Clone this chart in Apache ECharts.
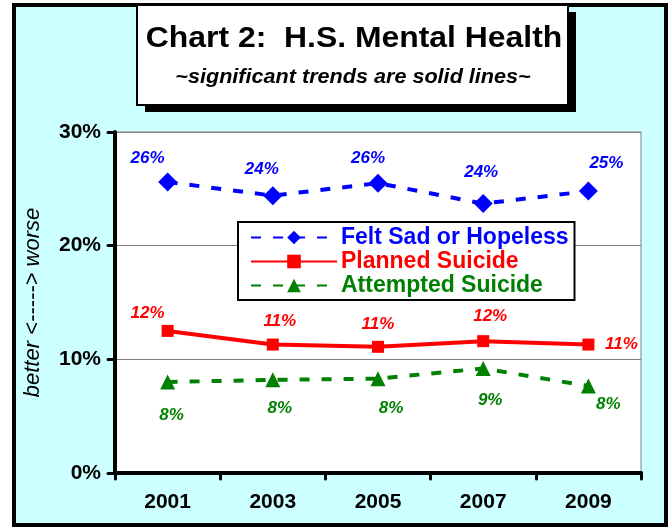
<!DOCTYPE html>
<html>
<head>
<meta charset="utf-8">
<script src="https://cdn.jsdelivr.net/npm/echarts@6/dist/echarts.min.js"></script>
<style>
  html, body { margin: 0; padding: 0; background: #fff; }
  #chart { width: 670px; height: 527px; }
</style>
</head>
<body>
<div id="chart"></div>
<script>
// data
var years = ['2001', '2003', '2005', '2007', '2009'];
var sadValues = [25.6, 24.4, 25.5, 23.7, 24.8];
var plannedValues = [12.5, 11.3, 11.1, 11.6, 11.3];
var attemptedValues = [8.0, 8.2, 8.3, 9.2, 7.65];
var sadLabels = ['26%', '24%', '26%', '24%', '25%'];
var plannedLabels = ['12%', '11%', '11%', '12%', '11%'];
var attemptedLabels = ['8%', '8%', '8%', '9%', '8%'];
var yTicks = [0, 10, 20, 30];

// where each value label sits relative to its point
var sadOffsets = [[-20, -24], [-11, -26], [-10, -25], [-2, -31], [18, -28]];
var plannedOffsets = [[-20, -18], [7, -23], [0, -23], [7, -25], [33, 0]];
var attemptedOffsets = [[4, 33], [7, 29], [13, 30], [7, 32], [20, 18]];

var FONT = "'Liberation Sans', Arial, sans-serif";
var BLUE = '#0000ff', RED = '#ff0000', GREEN = '#008000';

function pointData(values, labels, offsets, color) {
  return values.map(function (v, i) {
    return {
      value: v,
      label: {
        show: true,
        position: 'inside',
        offset: offsets[i],
        formatter: labels[i],
        color: color,
        fontFamily: FONT,
        fontSize: 17,
        fontWeight: 'bold',
        fontStyle: 'italic'
      }
    };
  });
}

var chart = echarts.init(document.getElementById('chart'));

var option = {
  backgroundColor: '#ffffff',
  animation: false,
  graphic: [
    {
      type: 'rect', z: -10,
      shape: { x: 14, y: 5, width: 652, height: 520 },
      style: { fill: '#ccffff', stroke: '#000', lineWidth: 4 }
    },
    {
      type: 'rect', z: 10,
      shape: { x: 145, y: 12, width: 431, height: 100 },
      style: { fill: '#000' }
    },
    {
      type: 'rect', z: 11,
      shape: { x: 137, y: 5, width: 431, height: 100 },
      style: { fill: '#fff', stroke: '#000', lineWidth: 2 }
    },
    {
      type: 'text', z: 12,
      x: 354, y: 39,
      scaleX: 1.1,
      style: {
        text: 'Chart 2:  H.S. Mental Health',
        fill: '#000',
        font: 'bold 29px ' + FONT,
        align: 'center',
        verticalAlign: 'middle'
      }
    },
    {
      type: 'text', z: 12,
      x: 353, y: 77,
      scaleX: 1.08,
      style: {
        text: '~significant trends are solid lines~',
        fill: '#000',
        font: 'italic bold 20px ' + FONT,
        align: 'center',
        verticalAlign: 'middle'
      }
    }
  ],
  legend: {
    orient: 'vertical',
    left: 238,
    top: 222,
    backgroundColor: '#fff',
    borderColor: '#000',
    borderWidth: 2,
    borderRadius: 0,
    padding: [4, 6, 3, 12],
    itemGap: 1,
    itemWidth: 86,
    itemHeight: 17,
    textStyle: {
      fontFamily: FONT, fontSize: 23, fontWeight: 'bold', lineHeight: 22, padding: [0, 0, 0, -1]
    },
    data: [
      { name: 'Felt Sad or Hopeless', textStyle: { color: BLUE } },
      { name: 'Planned Suicide', textStyle: { color: RED } },
      { name: 'Attempted Suicide', textStyle: { color: GREEN } }
    ]
  },
  grid: {
    left: 115,
    right: 29,
    top: 132,
    bottom: 54,
    show: true,
    backgroundColor: '#fff',
    borderColor: '#808080',
    borderWidth: 1
  },
  xAxis: {
    type: 'category',
    data: years,
    boundaryGap: true,
    axisLine: { lineStyle: { color: '#000', width: 4 } },
    axisTick: { show: true, length: 6, lineStyle: { color: '#000', width: 3, cap: 'round' } },
    axisLabel: {
      color: '#000', fontFamily: FONT, fontSize: 21, fontWeight: 'bold', margin: 19
    }
  },
  yAxis: {
    type: 'value',
    min: yTicks[0],
    max: yTicks[yTicks.length - 1],
    interval: 10,
    name: 'better <-----> worse',
    nameLocation: 'middle',
    nameGap: 71,
    nameTextStyle: { color: '#000', fontFamily: FONT, fontSize: 22, fontStyle: 'italic' },
    axisLine: { show: true, lineStyle: { color: '#000', width: 4 } },
    axisTick: { show: true, length: 7, lineStyle: { color: '#000', width: 3, cap: 'round' } },
    axisLabel: {
      color: '#000', fontFamily: FONT, fontSize: 21, fontWeight: 'bold', margin: 14,
      formatter: '{value}%'
    },
    splitLine: { lineStyle: { color: '#808080', width: 1 } }
  },
  series: [
    {
      name: 'Felt Sad or Hopeless',
      type: 'line',
      data: pointData(sadValues, sadLabels, sadOffsets, BLUE),
      symbol: 'diamond',
      symbolSize: 19,
      itemStyle: { color: BLUE },
      lineStyle: { color: BLUE, width: 4, type: [10, 12] },
      z: 3
    },
    {
      name: 'Planned Suicide',
      type: 'line',
      data: pointData(plannedValues, plannedLabels, plannedOffsets, RED),
      symbol: 'rect',
      symbolSize: 12,
      itemStyle: { color: RED },
      lineStyle: { color: RED, width: 4 },
      z: 3
    },
    {
      name: 'Attempted Suicide',
      type: 'line',
      data: pointData(attemptedValues, attemptedLabels, attemptedOffsets, GREEN),
      symbol: 'triangle',
      symbolSize: 15,
      itemStyle: { color: GREEN },
      lineStyle: { color: GREEN, width: 4, type: [10, 12] },
      z: 3
    }
  ]
};

chart.setOption(option);
</script>
</body>
</html>
